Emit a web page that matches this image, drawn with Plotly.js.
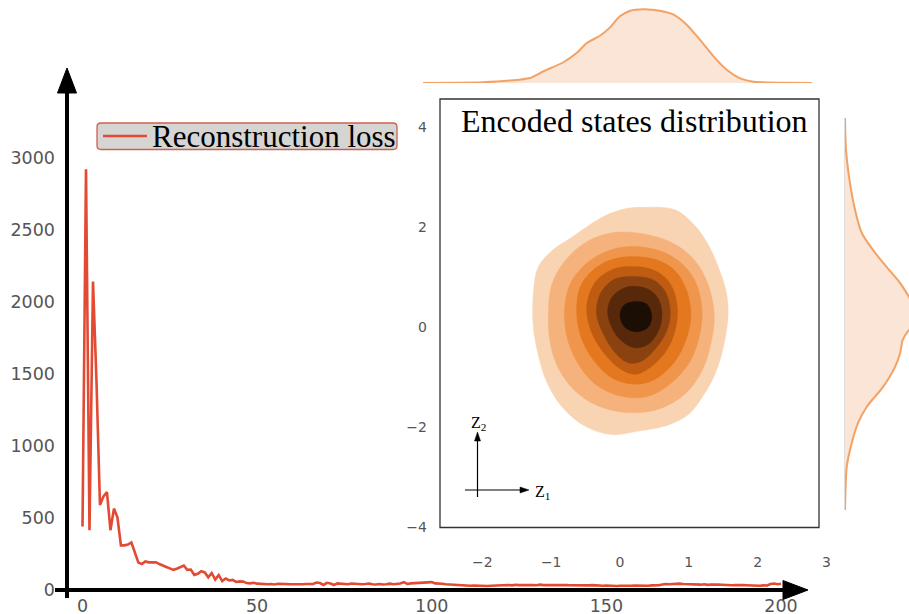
<!DOCTYPE html>
<html>
<head>
<meta charset="utf-8">
<script src="https://cdn.plot.ly/plotly-3.0.1.min.js"></script>
<style>html,body{margin:0;padding:0;background:#fff;}#chart{width:909px;height:614px;}</style>
</head>
<body>
<div id="chart"></div>
<script>
// ---------------- DATA ----------------
// Reconstruction loss per epoch (epochs 0..200)
const epochs = Array.from({length: 201}, (_, i) => i);
const reconstructionLoss = [
  440, 2920, 415, 2140, 1450, 590, 650, 680, 415, 565,
  505, 310, 310, 315, 330, 255, 190, 180, 198, 192,
  195, 193, 180, 172, 160, 150, 140, 148, 158, 170,
  140, 142, 105, 112, 130, 122, 88, 118, 72, 104,
  62, 80, 66, 70, 56, 60, 58, 48, 46, 50,
  44, 42, 45, 40, 42, 38, 43, 40, 42, 41,
  40, 42, 41, 40, 42, 44, 42, 52, 48, 35,
  50, 45, 35, 46, 44, 42, 40, 45, 42, 44,
  40, 42, 45, 40, 38, 42, 38, 40, 44, 40,
  42, 45, 55, 42, 46, 48, 47, 48, 50, 52,
  55, 46, 42, 43, 40, 38, 36, 35, 33, 32,
  32, 30, 31, 29, 28, 30, 28, 30, 32, 31,
  34, 33, 35, 32, 36, 34, 35, 33, 36, 34,
  33, 37, 34, 36, 35, 34, 36, 33, 35, 34,
  33, 35, 32, 34, 33, 32, 34, 31, 33, 30,
  31, 29, 30, 28, 29, 28, 30, 29, 31, 30,
  32, 31, 30, 32, 31, 33, 38, 42, 40, 43,
  41, 44, 42, 40, 43, 41, 39, 37, 40, 36,
  38, 35, 37, 36, 34, 35, 33, 35, 32, 34,
  33, 31, 33, 32, 30, 32, 31, 42, 45, 40,
  44
];
const lossTicks = [0, 500, 1000, 1500, 2000, 2500, 3000];
const epochTicks = [0, 50, 100, 150, 200];

// Encoded states density: boundaries of the filled density levels (outer -> inner), in (z1, z2)
const levelZ1 = [
  [0.32,0.80,1.09,1.28,1.45,1.55,1.57,1.50,1.38,1.19,0.99,0.65,0.27,-0.12,-0.51,-0.85,-1.07,-1.19,-1.26,-1.26,-1.19,-0.99,-0.70,-0.46,-0.22,0.07],
  [-0.07,0.41,0.80,1.09,1.28,1.37,1.33,1.19,0.94,0.56,0.12,-0.31,-0.65,-0.90,-1.02,-1.04,-0.99,-0.80,-0.46],
  [0.02,0.51,0.85,1.09,1.19,1.16,1.02,0.75,0.41,0.02,-0.36,-0.63,-0.78,-0.80,-0.70,-0.41],
  [0.02,0.51,0.80,0.97,1.03,0.97,0.80,0.51,0.22,-0.12,-0.41,-0.58,-0.63,-0.56,-0.31],
  [0.07,0.46,0.70,0.82,0.82,0.70,0.46,0.22,-0.02,-0.29,-0.44,-0.48,-0.36,-0.15],
  [0.07,0.46,0.65,0.73,0.68,0.51,0.31,0.12,-0.07,-0.24,-0.34,-0.29,-0.12],
  [0.12,0.41,0.56,0.61,0.56,0.41,0.22,0.02,-0.12,-0.18,-0.10],
  [0.19,0.39,0.46,0.41,0.24,0.07,0.00,0.05]
];
const levelZ2 = [
  [2.40,2.35,2.03,1.66,1.13,0.66,0.23,-0.41,-0.94,-1.41,-1.75,-1.98,-2.08,-2.15,-1.98,-1.58,-1.08,-0.54,0.00,0.66,1.20,1.53,1.80,2.03,2.23,2.37],
  [1.90,1.85,1.66,1.33,0.86,0.26,-0.27,-0.88,-1.34,-1.64,-1.71,-1.58,-1.28,-0.81,-0.27,0.33,0.86,1.33,1.73],
  [1.60,1.56,1.33,0.93,0.39,-0.14,-0.68,-1.11,-1.38,-1.38,-1.14,-0.68,-0.14,0.46,0.93,1.36],
  [1.40,1.36,1.13,0.73,0.26,-0.21,-0.68,-1.04,-1.14,-1.01,-0.61,-0.14,0.39,0.86,1.23],
  [1.21,1.16,0.93,0.53,0.06,-0.41,-0.78,-0.94,-0.81,-0.41,0.00,0.46,0.90,1.13],
  [1.01,0.96,0.73,0.33,-0.07,-0.44,-0.68,-0.71,-0.51,-0.14,0.26,0.66,0.93],
  [0.81,0.76,0.56,0.26,-0.07,-0.34,-0.41,-0.27,0.00,0.33,0.63],
  [0.51,0.46,0.23,0.00,-0.09,0.00,0.23,0.43]
];
const levelColors = ['#f9d4b2', '#f5b27d', '#f0964c', '#e3781f', '#c05b12', '#8a4310', '#57290a', '#1b0e04'];

// Marginal densities
const z1Grid = [-2.86,-2.4,-1.99,-1.6,-1.31,-1.11,-0.82,-0.63,-0.48,-0.29,-0.15,0.0,0.15,0.34,0.58,0.78,0.97,1.16,1.36,1.55,1.74,1.94,2.08,2.4,2.79];
const z1Density = [0,0.001,0.004,0.014,0.029,0.069,0.122,0.176,0.235,0.278,0.324,0.392,0.425,0.434,0.425,0.402,0.343,0.255,0.157,0.078,0.029,0.008,0.004,0.001,0];
const z2Grid = [4.21,3.57,2.91,2.37,1.91,1.56,1.22,0.90,0.62,0.40,0.22,0.05,-0.10,-0.24,-0.50,-0.78,-1.18,-1.58,-1.91,-2.45,-2.79,-3.65];
const z2Density = [0,0.006,0.029,0.059,0.098,0.165,0.245,0.324,0.376,0.41,0.42,0.40,0.363,0.339,0.324,0.294,0.224,0.128,0.076,0.029,0.010,0];
const insetXTicks = [-2, -1, 0, 1, 2, 3];
const insetYTicks = [-4, -2, 0, 2, 4];

// ---------------- LAYOUT HELPERS ----------------
const W = 909, H = 614;
const px = x => x / W;
const py = y => 1 - y / H;
function roundRect(x0, y0, x1, y1, r) {
  const p = (x, y) => px(x) + ',' + py(y);
  return 'M' + p(x0 + r, y0) + ' L' + p(x1 - r, y0) + ' Q' + p(x1, y0) + ' ' + p(x1, y0 + r) +
    ' L' + p(x1, y1 - r) + ' Q' + p(x1, y1) + ' ' + p(x1 - r, y1) +
    ' L' + p(x0 + r, y1) + ' Q' + p(x0, y1) + ' ' + p(x0, y1 - r) +
    ' L' + p(x0, y0 + r) + ' Q' + p(x0, y0) + ' ' + p(x0 + r, y0) + ' Z';
}
function tri(a, b, c) {
  const p = q => px(q[0]) + ',' + py(q[1]);
  return 'M' + p(a) + ' L' + p(b) + ' L' + p(c) + ' Z';
}

const tickGray = '#555555';
const sans = 'DejaVu Sans, sans-serif';
const serif = 'Liberation Serif, Times New Roman, serif';
const red = '#e24a33';

// ---------------- TRACES ----------------
const traces = [];
traces.push({
  x: epochs, y: reconstructionLoss, type: 'scatter', mode: 'lines',
  line: {color: red, width: 2.6}, xaxis: 'x', yaxis: 'y',
  name: 'Reconstruction loss', showlegend: false, hoverinfo: 'skip'
});
for (let k = 0; k < levelZ1.length; k++) {
  const xs = levelZ1[k].concat([levelZ1[k][0]]);
  const ys = levelZ2[k].concat([levelZ2[k][0]]);
  traces.push({
    x: xs, y: ys, type: 'scatter', mode: 'lines', fill: 'toself',
    fillcolor: levelColors[k], line: {color: levelColors[k], width: 0.5, shape: 'spline', smoothing: 1},
    xaxis: 'x2', yaxis: 'y2', showlegend: false, hoverinfo: 'skip'
  });
}
traces.push({
  x: z1Grid, y: z1Density, type: 'scatter', mode: 'lines', fill: 'tozeroy',
  fillcolor: '#fae5d6', line: {color: '#f2a264', width: 2, shape: 'spline', smoothing: 0.8},
  xaxis: 'x3', yaxis: 'y3', showlegend: false, hoverinfo: 'skip'
});
traces.push({
  x: z2Density, y: z2Grid, type: 'scatter', mode: 'lines', fill: 'tozerox',
  fillcolor: '#fae5d6', line: {color: '#f2a264', width: 2, shape: 'spline', smoothing: 0.8},
  xaxis: 'x4', yaxis: 'y4', showlegend: false, hoverinfo: 'skip'
});

// ---------------- LAYOUT ----------------
const hidden = {visible: false, showgrid: false, zeroline: false, showline: false, showticklabels: false, ticks: '', automargin: false, fixedrange: true};

const layout = {
  width: W, height: H,
  margin: {l: 0, r: 0, t: 0, b: 0, pad: 0},
  paper_bgcolor: '#ffffff', plot_bgcolor: 'rgba(0,0,0,0)',
  showlegend: false,
  xaxis: {
    domain: [px(56), px(810)], range: [-7.59, 208.3], anchor: 'y',
    tickvals: epochTicks, ticks: '', showgrid: false, zeroline: false, showline: false,
    tickfont: {family: sans, size: 17.5, color: tickGray}, automargin: false, fixedrange: true
  },
  yaxis: {
    domain: [py(593), py(60)], range: [-20.8, 3678], anchor: 'x',
    tickvals: lossTicks, ticks: '', showgrid: false, zeroline: false, showline: false,
    tickfont: {family: sans, size: 17.5, color: tickGray}, automargin: false, fixedrange: true
  },
  xaxis2: {
    domain: [px(440), px(830)], range: [-2.616, 3.052], anchor: 'y2',
    tickvals: insetXTicks, ticks: '', showgrid: false, zeroline: false, showline: false,
    tickfont: {family: sans, size: 14, color: tickGray}, ticklabelstandoff: 24,
    automargin: false, fixedrange: true
  },
  yaxis2: {
    domain: [py(528), py(99)], range: [-4.02, 4.57], anchor: 'x2',
    tickvals: insetYTicks, ticks: '', showgrid: false, zeroline: false, showline: false,
    tickfont: {family: sans, size: 14, color: tickGray}, ticklabelstandoff: 12,
    automargin: false, fixedrange: true
  },
  xaxis3: Object.assign({}, hidden, {domain: [px(423), px(812)], range: [-2.86, 2.79], anchor: 'y3'}),
  yaxis3: Object.assign({}, hidden, {domain: [py(83), py(8)], range: [0, 0.441], anchor: 'x3'}),
  xaxis4: Object.assign({}, hidden, {domain: [px(845), 1], range: [0, 0.376], anchor: 'y4'}),
  yaxis4: Object.assign({}, hidden, {domain: [py(510), py(118)], range: [-3.65, 4.21], anchor: 'x4'}),
  shapes: [
    // main axis arrows
    {type: 'line', xref: 'paper', yref: 'paper', x0: px(67), x1: px(67), y0: py(598), y1: py(92), line: {color: '#000', width: 4}, layer: 'above'},
    {type: 'path', xref: 'paper', yref: 'paper', path: tri([57.5, 93], [67, 68], [76.5, 93]), fillcolor: '#000', line: {color: '#000', width: 1}, layer: 'above'},
    {type: 'line', xref: 'paper', yref: 'paper', x0: px(55), x1: px(784), y0: py(590), y1: py(590), line: {color: '#000', width: 4}, layer: 'above'},
    {type: 'path', xref: 'paper', yref: 'paper', path: tri([783, 580.5], [808, 590], [783, 599.5]), fillcolor: '#000', line: {color: '#000', width: 1}, layer: 'above'},
    // inset frame
    {type: 'rect', xref: 'paper', yref: 'paper', x0: px(440), x1: px(819), y0: py(527.5), y1: py(99), line: {color: '#333333', width: 1.3}, fillcolor: 'rgba(0,0,0,0)', layer: 'above'},
    // right marginal baseline
    {type: 'line', xref: 'paper', yref: 'paper', x0: px(845), x1: px(845), y0: py(510), y1: py(118), line: {color: '#bdbdbd', width: 1}, layer: 'below'},
    // Z1 / Z2 direction indicator
    {type: 'line', xref: 'paper', yref: 'paper', x0: px(477.5), x1: px(477.5), y0: py(497), y1: py(439), line: {color: '#000', width: 1.2}, layer: 'above'},
    {type: 'path', xref: 'paper', yref: 'paper', path: tri([474.5, 441], [477.5, 432], [480.5, 441]), fillcolor: '#000', line: {color: '#000', width: 0.5}, layer: 'above'},
    {type: 'line', xref: 'paper', yref: 'paper', x0: px(465), x1: px(522), y0: py(490), y1: py(490), line: {color: '#000', width: 1.2}, layer: 'above'},
    {type: 'path', xref: 'paper', yref: 'paper', path: tri([520, 487], [529, 490], [520, 493]), fillcolor: '#000', line: {color: '#000', width: 0.5}, layer: 'above'},
    // legend box + sample line
    {type: 'path', xref: 'paper', yref: 'paper', path: roundRect(97, 123, 397, 149.5, 4), fillcolor: '#d5d5d3', line: {color: '#d0604e', width: 1.3}, layer: 'above'},
    {type: 'line', xref: 'paper', yref: 'paper', x0: px(103), x1: px(147), y0: py(136), y1: py(136), line: {color: red, width: 2.6}, layer: 'above'}
  ],
  annotations: [
    {xref: 'paper', yref: 'paper', x: px(150), y: py(136.5), xanchor: 'left', yanchor: 'middle', showarrow: false,
     text: 'Reconstruction loss', font: {family: serif, size: 31, color: '#000'}},
    {xref: 'paper', yref: 'paper', x: px(634.5), y: py(121), xanchor: 'center', yanchor: 'middle', showarrow: false,
     text: 'Encoded states distribution', font: {family: serif, size: 32, color: '#000'}},
    {xref: 'paper', yref: 'paper', x: px(478), y: py(423), xanchor: 'center', yanchor: 'middle', showarrow: false,
     text: 'Z<sub>2</sub>', font: {family: serif, size: 16, color: '#000'}},
    {xref: 'paper', yref: 'paper', x: px(542), y: py(492), xanchor: 'center', yanchor: 'middle', showarrow: false,
     text: 'Z<sub>1</sub>', font: {family: serif, size: 16, color: '#000'}}
  ]
};

Plotly.newPlot('chart', traces, layout, {displayModeBar: false, staticPlot: true});
</script>
</body>
</html>
